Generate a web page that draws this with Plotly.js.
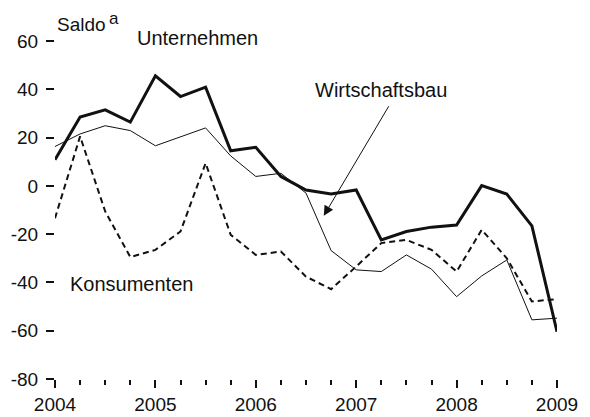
<!DOCTYPE html>
<html>
<head>
<meta charset="utf-8">
<script src="https://cdn.plot.ly/plotly-3.0.1.min.js"></script>
<style>html,body{margin:0;padding:0;background:#fff;}#chart{width:590px;height:417px;}</style>
</head>
<body>
<div id="chart"></div>
<script>
// Quarterly observations
const quarters = [2004, 2004.25, 2004.5, 2004.75, 2005, 2005.25, 2005.5, 2005.75,
  2006, 2006.25, 2006.5, 2006.75, 2007, 2007.25, 2007.5, 2007.75,
  2008, 2008.25, 2008.5, 2008.75, 2009];
const unternehmen = [10.8, 28.5, 31.5, 26.4, 45.6, 37, 40.9, 14.5, 16, 3.9, -1.7, -3.4,
  -1.7, -22.4, -18.9, -17.1, -16.2, 0.1, -3.4, -16.6, -60.4];
const wirtschaftsbau = [16.3, 21.5, 24.9, 22.9, 16.6, 20.4, 24, 12.4, 3.9, 5.2, -3, -26.8,
  -34.8, -35.5, -28.6, -34.5, -45.9, -37.3, -30.7, -55.5, -54.8];
const konsumenten = [-13.4, 20.5, -10.6, -29.5, -26.5, -18.9, 9.4, -20.3, -28.6, -27.2, -37.6, -42.8,
  -33.4, -23.7, -22.4, -26.5, -35.5, -18.2, -30, -47.9, -46.9];
const yTickVals = [-80, -60, -40, -20, 0, 20, 40, 60];
const yTickText = ["-80", "-60", "-40", "-20", "0", "20", "40", "60"];

const FONT = "'Liberation Sans', Arial, sans-serif";
const INK = "#111";

const traces = [
  {x: quarters, y: wirtschaftsbau, mode: "lines", line: {color: INK, width: 1}, cliponaxis: false},
  {x: quarters, y: konsumenten, mode: "lines", line: {color: INK, width: 2, dash: "6px,4px"}, cliponaxis: false},
  {x: quarters, y: unternehmen, mode: "lines", line: {color: INK, width: 3}, cliponaxis: false}
];

const layout = {
  width: 590, height: 417,
  margin: {l: 55, r: 33, t: 41, b: 38},
  paper_bgcolor: "#fff", plot_bgcolor: "#fff",
  showlegend: false,
  font: {family: FONT, size: 19, color: INK},
  xaxis: {
    range: [2004, 2009], tickmode: "linear", tick0: 2004, dtick: 1,
    ticks: "outside", ticklen: 8, tickwidth: 2, tickcolor: INK,
    showgrid: false, zeroline: false, showline: false,
    tickfont: {family: FONT, size: 19, color: INK},
    minor: {dtick: 0.25, tick0: 2004, ticks: "outside", ticklen: 5, tickwidth: 2, tickcolor: INK, showgrid: false}
  },
  yaxis: {
    range: [-80, 60], tickmode: "array", tickvals: yTickVals, ticktext: yTickText,
    ticks: "outside", ticklen: 8, tickwidth: 2, tickcolor: INK, ticklabelstandoff: 4,
    showgrid: false, zeroline: false, showline: false,
    tickfont: {family: FONT, size: 19, color: INK}
  },
  annotations: [
    {xref: "paper", yref: "paper", x: 0, y: 1.050, xanchor: "left", yanchor: "middle", showarrow: false,
      text: "Saldo", font: {family: FONT, size: 19, color: INK}},
    {xref: "paper", yref: "paper", x: 0.103, y: 1.066, xanchor: "left", yanchor: "middle", showarrow: false,
      text: "a", font: {family: FONT, size: 17, color: INK}},
    {xref: "paper", yref: "paper", x: 0.159, y: 1.008, xanchor: "left", yanchor: "middle", showarrow: false,
      text: "Unternehmen", font: {family: FONT, size: 20, color: INK}},
    {xref: "x", yref: "y", x: 2006.57, y: 39.5, xanchor: "left", yanchor: "middle", showarrow: false,
      text: "Wirtschaftsbau", font: {family: FONT, size: 20, color: INK}},
    {xref: "x", yref: "y", x: 2004.13, y: -40.6, xanchor: "left", yanchor: "middle", showarrow: false,
      text: "Konsumenten", font: {family: FONT, size: 20, color: INK}},
    {xref: "x", yref: "y", x: 2006.677, y: -12.4, axref: "x", ayref: "y", ax: 2007.333, ay: 33.6,
      text: "", showarrow: true, arrowhead: 2, arrowsize: 2, arrowwidth: 1, arrowcolor: INK}
  ]
};

Plotly.newPlot("chart", traces, layout, {displayModeBar: false, staticPlot: true});
</script>
</body>
</html>
